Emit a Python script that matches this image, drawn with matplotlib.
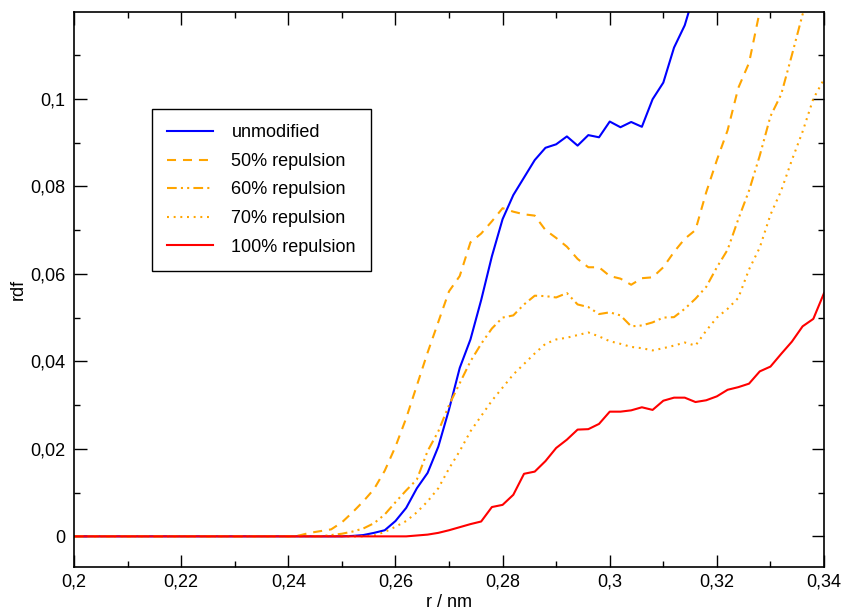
import matplotlib
matplotlib.use("Agg")
import matplotlib.pyplot as plt
from matplotlib.ticker import MultipleLocator, FuncFormatter
import numpy as np

plt.rcParams['font.family'] = ['Liberation Sans', 'DejaVu Sans']
plt.rcParams['lines.scale_dashes'] = False

# r grid, 0.002 nm steps
r = np.round(np.arange(0.200, 0.3401, 0.002), 3)

unmodified = [0]*26 + [
    0.0001, 0.0003, 0.0008, 0.0014, 0.0035, 0.0065, 0.0110, 0.0145, 0.0205, 0.0290,
    0.0385, 0.0450, 0.0540, 0.0640, 0.0725, 0.0780, 0.0820, 0.0860, 0.0888, 0.0896,
    0.0914, 0.0893, 0.0917, 0.0912, 0.0948, 0.0935, 0.0947, 0.0936, 0.0999, 0.1037,
    0.1117, 0.1168, 0.1250, 0.1330]

rep50 = [0]*21 + [
    0.0002, 0.0008, 0.0012, 0.0016, 0.0032, 0.0055, 0.0080, 0.0108, 0.0150, 0.0205,
    0.0270, 0.0345, 0.0420, 0.0490, 0.0560, 0.0595, 0.0672, 0.0692, 0.0720, 0.0750,
    0.0742, 0.0736, 0.0733, 0.0700, 0.0682, 0.0662, 0.0634, 0.0615, 0.0615, 0.0595,
    0.0589, 0.0575, 0.0590, 0.0592, 0.0615, 0.0650, 0.0680, 0.0700, 0.0786, 0.0860,
    0.0928, 0.1025, 0.1082, 0.1200, 0.1280]

rep60 = [0]*24 + [
    0.0003, 0.0006, 0.0011, 0.0018, 0.0030, 0.0050, 0.0078, 0.0105, 0.0130, 0.0195,
    0.0240, 0.0300, 0.0350, 0.0400, 0.0440, 0.0475, 0.0500, 0.0505, 0.0530, 0.0550,
    0.0549, 0.0546, 0.0556, 0.0530, 0.0524, 0.0508, 0.0512, 0.0505, 0.0480, 0.0482,
    0.0489, 0.0500, 0.0501, 0.0520, 0.0543, 0.0570, 0.0615, 0.0655, 0.0725, 0.0790,
    0.0870, 0.0960, 0.1010, 0.1100, 0.1193, 0.1260]

rep70 = [0]*28 + [
    0.0002, 0.0010, 0.0022, 0.0035, 0.0055, 0.0080, 0.0110, 0.0155, 0.0195, 0.0240,
    0.0275, 0.0310, 0.0340, 0.0370, 0.0394, 0.0418, 0.0440, 0.0450, 0.0454, 0.0460,
    0.0466, 0.0457, 0.0446, 0.0440, 0.0433, 0.0430, 0.0425, 0.0430, 0.0436, 0.0443,
    0.0436, 0.0470, 0.0500, 0.0520, 0.0545, 0.0610, 0.0660, 0.0735, 0.0790, 0.0860,
    0.0925, 0.1000, 0.1045]

rep100 = [0]*32 + [
    0.0002, 0.0004, 0.0008, 0.0014, 0.0021, 0.0028, 0.0034, 0.0067, 0.0072, 0.0095,
    0.0143, 0.0148, 0.0172, 0.0202, 0.0221, 0.0244, 0.0245, 0.0257, 0.0285, 0.0285,
    0.0288, 0.0295, 0.0289, 0.0310, 0.0317, 0.0317, 0.0307, 0.0311, 0.0320, 0.0335,
    0.0341, 0.0349, 0.0377, 0.0388, 0.0417, 0.0445, 0.0480, 0.0497, 0.0556]

labels = ["unmodified", "50% repulsion", "60% repulsion", "70% repulsion", "100% repulsion"]

fig = plt.figure(figsize=(8.43, 6.10), dpi=100)
ax = fig.add_axes([0.0878, 0.0705, 0.8897, 0.9103])

lw = 1.5
ax.plot(r[:len(unmodified)], unmodified, color="#0000ff", lw=lw, label=labels[0])
ax.plot(r[:len(rep50)], rep50, color="#ffa500", lw=lw, dashes=(6.5, 5), label=labels[1])
ax.plot(r[:len(rep60)], rep60, color="#ffa500", lw=lw,
        dashes=(7, 3, 1.5, 3, 1.5, 3), label=labels[2])
ax.plot(r[:len(rep70)], rep70, color="#ffa500", lw=lw, dashes=(1.4, 3.4), label=labels[3])
ax.plot(r[:len(rep100)], rep100, color="#ff0000", lw=lw, label=labels[4])

ax.set_xlim(0.2, 0.34)
ax.set_ylim(-0.007, 0.1199)

def comma(v, pos):
    return ("%g" % round(v, 4)).replace(".", ",")

ax.xaxis.set_major_locator(MultipleLocator(0.02))
ax.xaxis.set_minor_locator(MultipleLocator(0.01))
ax.yaxis.set_major_locator(MultipleLocator(0.02))
ax.yaxis.set_minor_locator(MultipleLocator(0.01))
ax.xaxis.set_major_formatter(FuncFormatter(comma))
ax.yaxis.set_major_formatter(FuncFormatter(comma))

ax.tick_params(which="both", direction="in", top=True, right=True, labelsize=13, width=1)
ax.tick_params(which="major", length=9)
ax.tick_params(which="minor", length=4.5)
ax.tick_params(axis="y", pad=6)
ax.tick_params(axis="x", pad=5)
for s in ax.spines.values():
    s.set_linewidth(1.2)

ax.set_xlabel("r / nm", fontsize=13, labelpad=2)
ax.set_ylabel("rdf", fontsize=13, labelpad=3)

leg = ax.legend(loc="upper left", bbox_to_anchor=(0.104, 0.8248), fontsize=13,
                handlelength=2.5, handletextpad=1.05, labelspacing=0.64,
                borderpad=0.85, borderaxespad=0, fancybox=False, framealpha=1)
leg.get_frame().set_edgecolor("black")
leg.get_frame().set_linewidth(1)

fig.savefig("out.png", dpi=100)
